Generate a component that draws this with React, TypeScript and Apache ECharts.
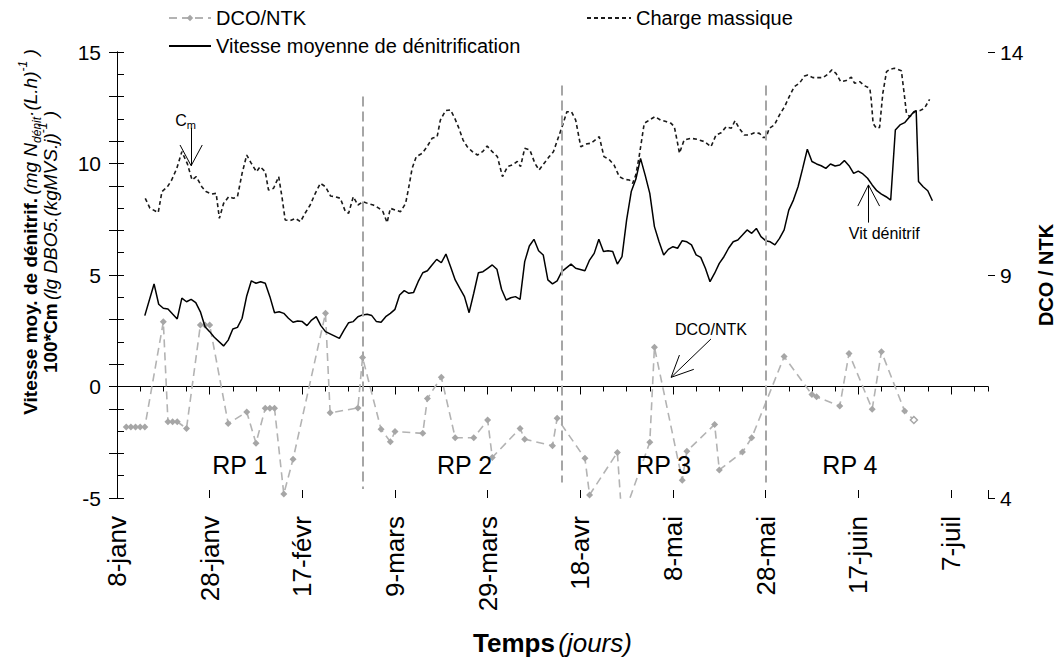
import React, { useEffect, useRef } from 'react';
import * as echarts from 'echarts';

const FONT = "'Liberation Sans', Arial, Helvetica, sans-serif";

// X tick labels every 20 days from 8-janv (day 0)
const tickLabels = ['8-janv', '28-janv', '17-févr', '9-mars', '29-mars', '18-avr', '8-mai', '28-mai', '17-juin', '7-juil'];

// DCO/NTK (right axis) : [day, value]
const dcoNtk: number[][] = [
  [2, 5.59], [3, 5.59], [4, 5.59], [5, 5.59], [6, 5.59], [10, 7.95], [11, 5.71], [12, 5.71], [13, 5.71], [15, 5.56],
  [18, 7.88], [19, 7.88], [20, 7.88], [24, 5.67], [28, 5.93], [30, 5.23], [32, 6.01], [33, 6.01], [34, 6.01], [36, 4.09],
  [38, 4.87], [45, 8.14], [46, 5.91], [52, 6.02], [53, 7.15], [57, 5.54], [59, 5.26], [60, 5.49], [66, 5.45], [67, 6.23],
  [70, 6.71], [73, 5.35], [77, 5.35], [80, 5.75], [81, 4.91], [87, 5.56], [88, 5.32], [94, 5.17], [95, 5.79], [101, 4.89],
  [102, 4.07], [108, 5.02], [109, 3.5], [115, 5.25], [116, 7.38], [122, 4.4], [123, 5.05], [129, 5.65], [130, 4.63], [135, 5.03],
  [137, 5.35], [144, 7.17], [150, 6.32], [151, 6.27], [156, 6.06], [158, 7.24], [163, 5.99], [165, 7.28], [170, 5.95], [172, 5.75],
];

// Charge massique (left axis, 100*Cm) : [day, value]
const chargeMassique: number[][] = [
  [6.1, 8.44], [7.1, 8.0], [8.9, 7.8], [9.7, 8.74], [10.9, 8.96], [11.8, 9.26], [12.9, 9.78], [14, 10.53], [15.2, 9.98], [16.2, 9.26],
  [17.1, 9.41], [18.3, 8.96], [19.2, 8.74], [20.5, 8.63], [21.4, 8.66], [22.1, 7.54], [23, 8.21], [24.1, 8.51], [25.1, 8.44], [26, 8.51],
  [27, 9.56], [28, 10.38], [28.9, 10.04], [30.1, 9.63], [30.9, 9.86], [32, 9.63], [32.7, 8.81], [33.8, 8.89], [34.9, 9.41], [35.6, 8.51],
  [36.3, 7.47], [37.4, 7.44], [38.5, 7.54], [39.6, 7.39], [40.6, 7.77], [41.7, 8.14], [42.8, 8.66], [43.9, 9.11], [45, 8.96], [46.1, 8.54],
  [47.1, 8.51], [48.2, 8.44], [49.3, 7.84], [50, 7.77], [51, 8.51], [52, 8.14], [53.1, 8.29], [54.1, 8.21], [55.3, 8.14], [56.5, 8.0],
  [57.4, 7.84], [58.3, 7.35], [59, 7.99], [60.1, 7.91], [61.2, 7.84], [62.3, 8.21], [63, 8.96], [63.7, 9.78], [64.6, 10.31], [65.9, 10.46],
  [67, 10.78], [68, 11.13], [69.1, 11.2], [69.8, 11.95], [70.9, 12.37], [72, 12.4], [72.9, 12.03], [73.8, 11.58], [74.7, 11.05], [75.6, 10.75],
  [76.7, 10.53], [77.8, 10.38], [78.9, 10.53], [79.9, 10.78], [81, 10.53], [82.1, 10.31], [83.2, 9.41], [84.3, 9.86], [85.3, 9.93], [86.4, 10.09],
  [87.1, 9.86], [88, 10.68], [89.1, 10.61], [90.2, 10.01], [91.1, 9.71], [92.2, 10.01], [93.3, 10.31], [94.2, 10.53], [95.2, 11.13], [96.2, 11.73],
  [97.1, 12.32], [98.1, 12.32], [99, 11.95], [100.1, 10.75], [101.2, 10.87], [102.3, 10.91], [104.1, 11.2], [105.1, 10.31], [106.2, 10.19], [107.3, 9.93],
  [108.4, 9.41], [109.5, 9.29], [110.6, 9.26], [111.3, 9.11], [112, 9.5], [112.7, 10.31], [113.8, 11.8], [114.9, 11.95], [116.1, 12.1], [117.3, 11.95],
  [118.5, 11.88], [119.6, 11.8], [120.3, 11.65], [121, 10.91], [121.4, 10.46], [122.4, 11.05], [123.9, 11.13], [125.3, 11.08], [126.8, 10.98], [128.2, 10.75],
  [129.3, 11.28], [130.4, 11.38], [131.5, 11.65], [132.6, 11.58], [133.4, 11.92], [134.3, 11.58], [135.4, 11.28], [136.5, 11.28], [137.6, 11.38], [138.7, 11.35],
  [139.4, 11.17], [140.1, 11.17], [140.8, 11.58], [141.9, 11.73], [143, 12.18], [144.1, 12.55], [145.1, 13.0], [146.2, 13.45], [147.3, 13.6], [148.4, 13.92],
  [149.1, 13.97], [150.2, 13.85], [151.3, 13.85], [152.4, 13.85], [153.4, 14.0], [154.3, 14.2], [155.2, 14.04], [156.2, 13.67], [157.4, 13.72], [158.5, 13.87],
  [159.2, 13.6], [160.3, 13.67], [161.4, 13.48], [162.5, 13.37], [162.8, 12.85], [163.2, 11.8], [163.9, 11.58], [164.6, 11.62], [165.3, 13.15], [166.1, 14.12],
  [166.8, 14.22], [167.8, 14.27], [169.3, 14.16], [169.9, 13.15], [170.4, 12.25], [171.1, 12.1], [172.2, 12.32], [173.3, 12.37], [174.3, 12.48], [175.4, 12.88],
];

// Vitesse moyenne de dénitrification (left axis) : [day, value]
const vitesseDenitrif: number[][] = [
  [6, 3.18], [8, 4.6], [9, 3.69], [10, 3.51], [11, 3.48], [12, 3.25], [13, 3.03], [14, 3.96], [15, 3.8], [16, 3.91],
  [17, 3.76], [18, 3.35], [19, 2.68], [20, 2.46], [21, 2.21], [23, 1.82], [24, 2.08], [25, 2.58], [26, 2.65], [27, 3.06],
  [28, 4.06], [29, 4.74], [30, 4.63], [31, 4.7], [32, 4.63], [33, 4.03], [34, 3.31], [35, 3.35], [36, 3.28], [37, 3.06],
  [38, 2.88], [39, 2.94], [40, 2.91], [41, 2.73], [42, 2.98], [43, 3.13], [44, 2.73], [45, 2.46], [47, 2.26], [48, 2.16],
  [49, 2.53], [50, 2.86], [51, 2.91], [52, 3.13], [53, 3.21], [54, 3.24], [55, 3.18], [56, 2.91], [57, 2.88], [58, 3.13],
  [59, 3.28], [60, 3.46], [61, 4.1], [62, 4.3], [63, 4.18], [64, 4.21], [65, 4.7], [66, 5.1], [67, 5.19], [68, 5.45],
  [69, 5.7], [70, 5.55], [71, 5.94], [72, 5.37], [73, 4.78], [74, 4.4], [75, 4.03], [76, 3.31], [77, 4.18], [78, 5.1],
  [79, 5.15], [80, 5.3], [81, 5.45], [82, 5.26], [83, 4.36], [84, 3.88], [85, 3.98], [86, 4.03], [87, 3.91], [88, 5.6],
  [89, 6.3], [90, 6.6], [91, 6.09], [92, 5.9], [93, 4.78], [94, 4.6], [95, 4.74], [96, 5.15], [98, 5.49], [99, 5.3],
  [101, 5.19], [102, 5.67], [103, 5.97], [104, 6.6], [105, 6.05], [106, 6.09], [107, 6.05], [108, 5.49], [109, 5.82], [110, 7.47],
  [111, 8.74], [112, 9.3], [113, 10.23], [114, 9.48], [115, 8.66], [116, 7.17], [117, 6.49], [118, 5.9], [119, 6.15], [120, 6.27],
  [121, 6.2], [122, 6.54], [123, 6.49], [124, 6.35], [125, 5.9], [126, 5.79], [127, 5.3], [128, 4.7], [129, 5.08], [130, 5.52],
  [131, 5.82], [132, 6.2], [133, 6.49], [134, 6.57], [135, 6.79], [136, 7.02], [137, 6.87], [138, 7.09], [139, 6.72], [140, 6.54],
  [141, 6.49], [142, 6.35], [143, 6.64], [144, 7.02], [145, 7.91], [146, 8.36], [147, 8.96], [148, 9.78], [149, 10.64], [150, 10.09],
  [151, 9.98], [152, 9.9], [153, 9.78], [154, 9.98], [155, 9.89], [156, 9.93], [157, 10.13], [158, 9.9], [159, 9.56], [160, 9.66],
  [161, 9.53], [162, 9.34], [163, 9.04], [164, 8.78], [165, 8.63], [166, 8.51], [167, 8.36], [168, 11.5], [169, 11.73], [170, 11.83],
  [171, 12.07], [172, 12.32], [172.5, 12.37], [173, 9.19], [174, 8.96], [175, 8.78], [176, 8.33],
];

// Period labels and boundaries (days from 8-janv)
const periodLabels = ['RP 1', 'RP 2', 'RP 3', 'RP 4'];
const periodLabelDays = [26.5, 75, 118, 158.2];
const periodLabelLevel = -3.5;
const periodBoundaries = [53, 96, 140];
const periodLineTop = [13.0, 13.5, 13.5];
const periodLineBottom = [-4.6, -4.3, -4.3];

// Annotation arrows (left-axis coordinates): shaft start, tip, and two head ends
const annotations = [
  { text: '{c|C}{s|m}', label: [14.8, 11.95], shaft: [16, 11.6], tip: [16, 9.9], headL: [13.6, 10.83], headR: [18.4, 10.83] },
  { text: 'Vit dénitrif', label: [165.6, 6.85], shaft: [162.2, 7.35], tip: [162.2, 9.04], headL: [159.9, 8.09], headR: [164.6, 8.09] },
  { text: 'DCO/NTK', label: [128.2, 2.55], shaft: [128.2, 2.13], tip: [119.6, 0.41], headL: [121.4, 1.41], headR: [124.5, 0.77] },
];

export default function App() {
  const ref = useRef<HTMLDivElement>(null);

  useEffect(() => {
    if (!ref.current) return;
    const chart = echarts.init(ref.current, undefined, { renderer: 'svg' });

    const black = '#000';
    const markLines: any[] = [];
    periodBoundaries.forEach((d, i) => {
      markLines.push([
        { coord: [d, periodLineTop[i]], lineStyle: { color: '#a6a6a6', width: 2, type: [10, 5] } },
        { coord: [d, periodLineBottom[i]] },
      ]);
    });
    annotations.forEach((a) => {
      const ls = { color: '#000', width: 1, type: 'solid' };
      markLines.push([{ coord: a.shaft, lineStyle: ls }, { coord: a.tip }]);
      markLines.push([{ coord: a.headL, lineStyle: ls }, { coord: a.tip }]);
      markLines.push([{ coord: a.headR, lineStyle: ls }, { coord: a.tip }]);
    });

    const markPoints: any[] = [];
    periodLabels.forEach((t, i) => {
      markPoints.push({ coord: [periodLabelDays[i], periodLabelLevel], label: { formatter: t, fontSize: 25 } });
    });
    annotations.forEach((a) => {
      markPoints.push({ coord: a.label, label: { formatter: a.text, fontSize: 16 } });
    });

    const legendText = { fontSize: 20, color: black, fontFamily: FONT };

    const option: any = {
      animation: false,
      backgroundColor: '#ffffff',
      textStyle: { fontFamily: FONT, color: black },
      grid: { left: 117, right: 72, top: 52, bottom: 163, containLabel: false },
      legend: [
        { data: [{ name: 'DCO/NTK' }], left: 168, top: 8, itemWidth: 42, itemHeight: 8, padding: 0, selectedMode: false, textStyle: legendText },
        { data: [{ name: 'Charge massique', itemStyle: { opacity: 0 } }], left: 586, top: 8, itemWidth: 44, itemHeight: 14, padding: 0, selectedMode: false, textStyle: legendText },
        { data: [{ name: 'Vitesse moyenne de dénitrification', itemStyle: { opacity: 0 } }], left: 168, top: 36, itemWidth: 42, itemHeight: 14, padding: 0, selectedMode: false, textStyle: legendText },
      ],
      xAxis: [
        {
          type: 'value', min: 0, max: 188, interval: 20, position: 'bottom',
          axisLine: { show: true, lineStyle: { color: black, width: 1 } },
          axisTick: { show: true, length: 8, lineStyle: { color: black } },
          splitLine: { show: false },
          axisLabel: {
            rotate: 90, fontSize: 26, margin: 18, color: black, fontFamily: FONT, showMaxLabel: false,
            formatter: (v: number) => {
              const i = Math.round(v / 20);
              return Math.abs(v - i * 20) < 1e-6 && i < tickLabels.length ? tickLabels[i] : '';
            },
          },
          name: '{b|Temps} {i|(jours)}', nameLocation: 'middle', nameGap: 132,
          nameTextStyle: {
            rich: {
              b: { fontWeight: 'bold', fontSize: 26, fontFamily: FONT, color: black },
              i: { fontStyle: 'italic', fontSize: 26, fontFamily: FONT, color: black },
            },
          },
        },
        {
          type: 'value', min: 0, max: 188, interval: 5, position: 'bottom',
          axisLine: { show: false }, axisLabel: { show: false }, splitLine: { show: false },
          axisTick: { show: true, length: 5, lineStyle: { color: black } },
        },
        {
          type: 'value', min: 0, max: 188, interval: 20, position: 'bottom',
          axisLine: { show: false }, axisLabel: { show: false }, splitLine: { show: false },
          axisTick: { show: true, inside: true, length: 8, lineStyle: { color: black } },
        },
      ],
      yAxis: [
        {
          type: 'value', min: -5, max: 15, interval: 5, position: 'left',
          axisLine: { show: true, lineStyle: { color: black, width: 1 } },
          axisTick: { show: true, inside: true, length: 7, lineStyle: { color: black } },
          minorTick: { show: true, splitNumber: 5, length: 7, lineStyle: { color: black } },
          splitLine: { show: false }, minorSplitLine: { show: false },
          axisLabel: { fontSize: 21, margin: 16, color: black, fontFamily: FONT },
        },
        {
          type: 'value', min: 4, max: 14, interval: 5, position: 'right',
          axisLine: { show: true, lineStyle: { color: black, width: 1 } },
          axisTick: { show: true, inside: true, length: 8, lineStyle: { color: black } },
          minorTick: { show: true, splitNumber: 5, length: 8, lineStyle: { color: black } },
          splitLine: { show: false }, minorSplitLine: { show: false },
          axisLabel: { fontSize: 21, margin: 12, color: black, fontFamily: FONT },
        },
        {
          type: 'value', min: -5, max: 15, interval: 5, position: 'left',
          axisLine: { show: false }, axisLabel: { show: false }, splitLine: { show: false },
          axisTick: { show: true, length: 8, lineStyle: { color: black } },
        },
        {
          type: 'value', min: 4, max: 14, interval: 5, position: 'right',
          axisLine: { show: false }, axisLabel: { show: false }, splitLine: { show: false },
          axisTick: { show: true, length: 7, lineStyle: { color: black } },
        },
      ],
      series: [
        {
          name: 'DCO/NTK', type: 'line', xAxisIndex: 0, yAxisIndex: 1,
          data: dcoNtk.map((p, i) =>
            i === dcoNtk.length - 1
              ? { value: p, itemStyle: { color: '#ffffff', borderColor: '#a6a6a6', borderWidth: 1.5 } }
              : { value: p }
          ),
          symbol: 'diamond', symbolSize: 7, showAllSymbol: true,
          itemStyle: { color: '#a6a6a6' },
          lineStyle: { color: '#b3b3b3', width: 1.6, type: [8, 5] },
          clip: true, z: 2,
        },
        {
          name: 'Charge massique', type: 'line', xAxisIndex: 0, yAxisIndex: 0,
          data: chargeMassique, symbol: 'none',
          itemStyle: { color: '#1a1a1a' },
          lineStyle: { color: '#1a1a1a', width: 1.6, type: [4, 3] },
          z: 3,
        },
        {
          name: 'Vitesse moyenne de dénitrification', type: 'line', xAxisIndex: 0, yAxisIndex: 0,
          data: vitesseDenitrif, symbol: 'none',
          itemStyle: { color: '#000' },
          lineStyle: { color: '#000', width: 1.5 },
          z: 4,
          markLine: {
            silent: true, symbol: ['none', 'none'], label: { show: false }, animation: false,
            emphasis: { disabled: true },
            data: markLines,
          },
          markPoint: {
            silent: true, symbol: 'circle', symbolSize: 1, animation: false,
            itemStyle: { color: 'rgba(0,0,0,0)' },
            label: {
              show: true, position: 'inside', color: black, fontFamily: FONT,
              rich: {
                c: { fontSize: 16, fontFamily: FONT, color: black, lineHeight: 20, verticalAlign: 'middle' },
                s: { fontSize: 11, fontFamily: FONT, color: black, lineHeight: 11, verticalAlign: 'bottom' },
              },
            },
            data: markPoints,
          },
        },
      ],
      graphic: [
        {
          type: 'text', x: 30, y: 232, rotation: Math.PI / 2, silent: true,
          style: {
            text: '{b|Vitesse moy. de dénitrif.} {i|(mg N}{sub|dénit}{i|·(L.h)}{sup|-1}{i| )}',
            align: 'center', verticalAlign: 'middle', textAlign: 'center', textVerticalAlign: 'middle',
            fill: black,
            rich: {
              b: { fontWeight: 'bold', fontSize: 19, fontFamily: FONT, lineHeight: 26, fill: black },
              i: { fontStyle: 'italic', fontSize: 19, fontFamily: FONT, lineHeight: 26, fill: black },
              sub: { fontStyle: 'italic', fontSize: 12, fontFamily: FONT, lineHeight: 12, verticalAlign: 'bottom', fill: black },
              sup: { fontStyle: 'italic', fontSize: 12, fontFamily: FONT, lineHeight: 12, verticalAlign: 'top', fill: black },
            },
          },
        },
        {
          type: 'text', x: 50, y: 242, rotation: Math.PI / 2, silent: true,
          style: {
            text: '{b|100*Cm} {i|(lg DBO5.(kgMVS.j)}{sup|-1}{i| )}',
            align: 'center', verticalAlign: 'middle', textAlign: 'center', textVerticalAlign: 'middle',
            fill: black,
            rich: {
              b: { fontWeight: 'bold', fontSize: 19, fontFamily: FONT, lineHeight: 26, fill: black },
              i: { fontStyle: 'italic', fontSize: 19, fontFamily: FONT, lineHeight: 26, fill: black },
              sup: { fontStyle: 'italic', fontSize: 12, fontFamily: FONT, lineHeight: 12, verticalAlign: 'top', fill: black },
            },
          },
        },
        {
          type: 'text', x: 1046, y: 275, rotation: Math.PI / 2, silent: true,
          style: {
            text: 'DCO / NTK', fontSize: 20, fontWeight: 'bold', fontFamily: FONT, fill: black,
            align: 'center', verticalAlign: 'middle', textAlign: 'center', textVerticalAlign: 'middle',
          },
        },
      ],
    };

    chart.setOption(option);
    return () => chart.dispose();
  }, []);

  return (
    <div
      ref={ref}
      style={{ position: 'absolute', left: 0, top: 0, width: 1060, height: 661, background: '#fff' }}
    />
  );
}
